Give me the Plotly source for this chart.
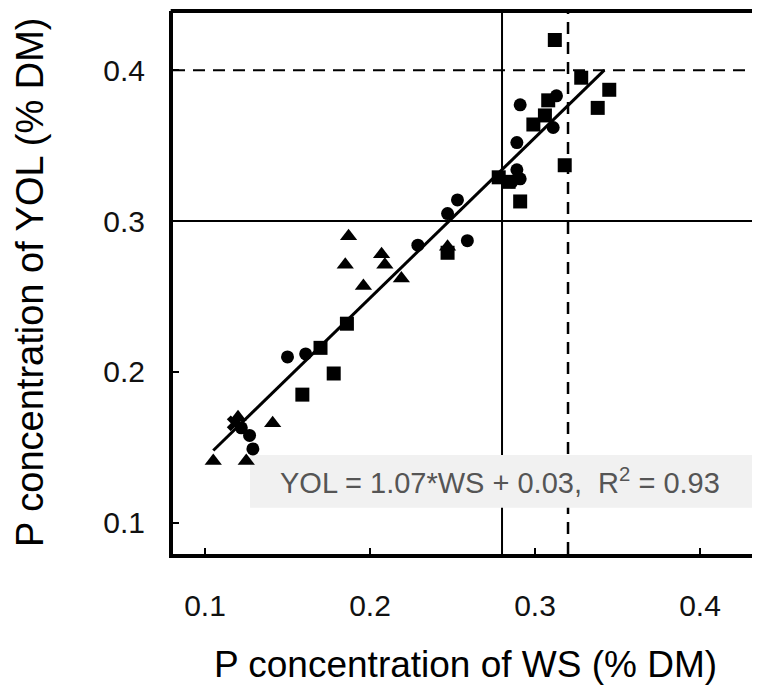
import plotly.graph_objects as go

# ── Data ──────────────────────────────────────────────────────────────────────
squares_x = [0.312, 0.328, 0.345, 0.338, 0.308, 0.306, 0.299, 0.318, 0.291,
             0.278, 0.284, 0.247, 0.186, 0.170, 0.178, 0.159]
squares_y = [0.420, 0.395, 0.387, 0.375, 0.380, 0.370, 0.364, 0.337, 0.313,
             0.329, 0.326, 0.279, 0.232, 0.216, 0.199, 0.185]

circles_x = [0.291, 0.313, 0.311, 0.289, 0.289, 0.291, 0.286, 0.253, 0.259,
             0.229, 0.247, 0.150, 0.161, 0.129, 0.122, 0.127]
circles_y = [0.377, 0.383, 0.362, 0.352, 0.334, 0.328, 0.326, 0.314, 0.287,
             0.284, 0.305, 0.210, 0.212, 0.149, 0.163, 0.158]

triangles_x = [0.187, 0.185, 0.207, 0.209, 0.196, 0.219, 0.247, 0.141, 0.105,
               0.125, 0.120]
triangles_y = [0.290, 0.271, 0.278, 0.271, 0.257, 0.262, 0.283, 0.166, 0.141,
               0.141, 0.170]

crosses_x = [0.118]
crosses_y = [0.166]

fit_x = [0.105, 0.342]
fit_y = [0.148, 0.400]

ref_x_solid, ref_x_dash = 0.28, 0.32
ref_y_solid, ref_y_dash = 0.30, 0.40

tick_vals = [0.1, 0.2, 0.3, 0.4]
tick_text = ["0.1", "0.2", "0.3", "0.4"]

equation = "YOL = 1.07*WS + 0.03,  R<sup>2</sup> = 0.93"

FONT = "Liberation Sans, Arial, sans-serif"

fig = go.Figure()

marker_sets = [
    (squares_x, squares_y, "square", 14),
    (circles_x, circles_y, "circle", 13),
    (triangles_x, triangles_y, "triangle-up", 15),
    (crosses_x, crosses_y, "x", 14),
]
for xs, ys, sym, size in marker_sets:
    fig.add_trace(go.Scatter(
        x=xs, y=ys, mode="markers",
        marker=dict(symbol=sym, size=size, color="black", line=dict(width=0)),
        showlegend=False,
    ))

# regression line
fig.add_trace(go.Scatter(
    x=fit_x, y=fit_y, mode="lines",
    line=dict(color="black", width=3),
    showlegend=False,
))

# reference lines, then the equation box on top of them
fig.add_vline(x=ref_x_solid, line=dict(color="black", width=2), layer="below")
fig.add_vline(x=ref_x_dash, line=dict(color="black", width=2.5, dash="12px,8px"), layer="below")
fig.add_hline(y=ref_y_solid, line=dict(color="black", width=2), layer="below")
fig.add_hline(y=ref_y_dash, line=dict(color="black", width=2, dash="12px,8px"), layer="below")

fig.add_shape(type="rect", xref="x", yref="y", x0=0.1273, x1=0.4315, y0=0.110, y1=0.145,
              fillcolor="#f1f1f1", line=dict(width=0), layer="below")
fig.add_annotation(x=0.279, y=0.128, xref="x", yref="y", text=equation, showarrow=False,
                   xanchor="center", yanchor="middle",
                   font=dict(family=FONT, size=29, color="#555555"))

# top border of the frame (no right border in the reference)
fig.add_shape(type="line", xref="paper", yref="paper", x0=-0.004, x1=1, y0=1, y1=1,
              line=dict(color="black", width=4))

# axis titles
fig.add_annotation(x=0.506, y=-0.204, xref="paper", yref="paper",
                   text="P concentration of WS (% DM)", showarrow=False,
                   xanchor="center", yanchor="middle",
                   font=dict(family=FONT, size=37, color="black"))
fig.add_annotation(x=-0.248, y=0.5, xref="paper", yref="paper", textangle=-90,
                   text="P concentration of YOL (% DM)", showarrow=False,
                   xanchor="center", yanchor="middle",
                   font=dict(family=FONT, size=38, color="black"))

# page body adds 8px around the figure, so the figure is sized to fit the window
fig.update_layout(
    width=744, height=682,
    margin=dict(l=165, r=0, t=3, b=136),
    paper_bgcolor="white", plot_bgcolor="white",
    font=dict(family=FONT, color="black"),
)
fig.update_xaxes(
    range=[0.0806, 0.4315], tickvals=tick_vals, ticktext=tick_text,
    showgrid=False, zeroline=False,
    showline=True, linecolor="black", linewidth=4,
    ticks="inside", ticklen=6, tickwidth=2, tickcolor="black",
    tickfont=dict(family=FONT, size=30, color="#111111"), ticklabelstandoff=22,
)
fig.update_yaxes(
    range=[0.0794, 0.4392], tickvals=tick_vals, ticktext=tick_text,
    showgrid=False, zeroline=False,
    showline=True, linecolor="black", linewidth=4,
    ticks="inside", ticklen=6, tickwidth=2, tickcolor="black",
    tickfont=dict(family=FONT, size=30, color="#111111"), ticklabelstandoff=18,
)

fig.write_html("out.html")
